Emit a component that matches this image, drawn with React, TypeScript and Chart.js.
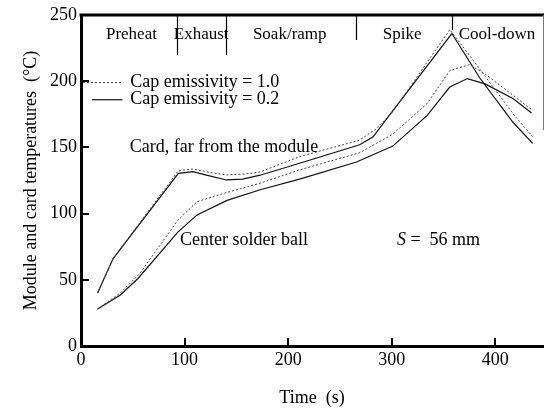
import { useEffect, useRef } from "react";
import { Chart, registerables } from "chart.js";

Chart.register(...registerables);

const FONT = '"Liberation Serif", "Times New Roman", serif';

// Card, far from the module — cap emissivity 0.2 (solid)
const cardTime02 = [16, 31, 94, 108, 121, 140.5, 156, 173, 211, 269, 282, 298, 358, 385, 417, 436];
const cardTemp02 = [40, 66, 130.4, 131.7, 129, 125.4, 126, 129, 138, 152, 158, 174.5, 236, 202.4, 169, 153];

// Card, far from the module — cap emissivity 1.0 (dotted)
const cardTime10 = [16, 31, 94, 108, 125, 140.5, 160, 173, 211, 269, 285, 301, 356, 377, 418, 436];
const cardTemp10 = [40, 66, 132.4, 133.7, 131, 129.2, 130, 131.5, 143, 155.5, 164, 177, 239, 217.5, 174.5, 158];

// Center solder ball — cap emissivity 0.2 (solid)
const ballTime02 = [16, 38, 55, 93.5, 112, 141, 173, 211, 266, 301, 334, 356, 373, 390, 417, 435];
const ballTemp02 = [28, 38.5, 51, 86, 99, 110, 118, 126, 139, 151, 174, 195.6, 202, 198, 187, 176];

// Center solder ball — cap emissivity 1.0 (dotted)
const ballTime10 = [16, 38, 57, 93.5, 112, 141, 173, 211, 269, 301, 334, 356, 375, 391, 436];
const ballTemp10 = [28, 40, 55, 95, 109, 116, 123, 133, 146, 160, 183, 208, 212.5, 205, 178];

// Reflow phases
const phaseNames = ["Preheat", "Exhaust", "Soak/ramp", "Spike", "Cool-down"];
const phaseLabelTimes = [48.7, 116, 201.5, 310, 401.6];
const phaseBoundaries = [92.6, 140, 265, 358];

const legendLabels = ["Cap emissivity = 1.0", "Cap emissivity = 0.2"];

const xTickValues = [100, 200, 300, 400];
const yTickValues = [50, 100, 150, 200];

const SOLID = "#111111";
const DOTTED = "#444444";

export default function App() {
  const ref = useRef<HTMLCanvasElement>(null);

  useEffect(() => {
    const canvas = ref.current;
    if (!canvas) return;
    const pts = (t: number[], v: number[]) => t.map((x, i) => ({ x, y: v[i] }));

    const overlay = {
      id: "overlay",
      afterDraw(chart: any) {
        const { ctx, chartArea } = chart;
        const xs = chart.scales.x;
        const ys = chart.scales.y;
        const { left, right, top, bottom } = chartArea;
        ctx.save();
        ctx.strokeStyle = "#000";
        ctx.fillStyle = "#000";

        // top frame
        ctx.lineWidth = 3;
        ctx.beginPath();
        ctx.moveTo(left - 1.5, top);
        ctx.lineTo(right + 1, top);
        ctx.stroke();
        // right frame (faint)
        ctx.lineWidth = 1;
        ctx.strokeStyle = "#777";
        ctx.beginPath();
        ctx.moveTo(right + 0.5, top);
        ctx.lineTo(right + 0.5, top + 115);
        ctx.stroke();
        ctx.strokeStyle = "#000";

        // inward ticks
        ctx.lineWidth = 2;
        yTickValues.forEach((v) => {
          const y = Math.round(ys.getPixelForValue(v));
          ctx.beginPath();
          ctx.moveTo(left, y);
          ctx.lineTo(left + 8, y);
          ctx.stroke();
        });
        xTickValues.forEach((v) => {
          const x = Math.round(xs.getPixelForValue(v));
          ctx.beginPath();
          ctx.moveTo(x, bottom);
          ctx.lineTo(x, bottom - 8);
          ctx.stroke();
        });

        // phase dividers
        const divLen = [40, 40, 25, 15];
        ctx.lineWidth = 1.2;
        phaseBoundaries.forEach((t, i) => {
          const x = Math.round(xs.getPixelForValue(t)) + 0.5;
          ctx.beginPath();
          ctx.moveTo(x, top);
          ctx.lineTo(x, top + divLen[i]);
          ctx.stroke();
        });

        // phase labels
        ctx.font = `17px ${FONT}`;
        ctx.textAlign = "center";
        ctx.textBaseline = "middle";
        const phaseY = ys.getPixelForValue(235);
        phaseNames.forEach((name, i) => {
          ctx.fillText(name, xs.getPixelForValue(phaseLabelTimes[i]), phaseY);
        });

        // legend
        ctx.textAlign = "left";
        ctx.font = `18px ${FONT}`;
        const ly1 = ys.getPixelForValue(199);
        const ly2 = ys.getPixelForValue(186);
        const textX = xs.getPixelForValue(47.5);
        ctx.lineWidth = 1;
        ctx.strokeStyle = DOTTED;
        ctx.setLineDash([2, 2]);
        ctx.beginPath();
        ctx.moveTo(left + 2, ly1);
        ctx.lineTo(xs.getPixelForValue(40), ly1);
        ctx.stroke();
        ctx.setLineDash([]);
        ctx.strokeStyle = SOLID;
        ctx.lineWidth = 1.2;
        ctx.beginPath();
        ctx.moveTo(xs.getPixelForValue(10.6), ly2);
        ctx.lineTo(xs.getPixelForValue(40), ly2);
        ctx.stroke();
        ctx.fillText(legendLabels[0], textX, ly1);
        ctx.fillText(legendLabels[1], textX, ly2);

        // annotations
        ctx.fillText("Card, far from the module", xs.getPixelForValue(47), ys.getPixelForValue(150));
        ctx.fillText("Center solder ball", xs.getPixelForValue(95.5), ys.getPixelForValue(80));
        const sx = xs.getPixelForValue(305);
        const sy = ys.getPixelForValue(80);
        ctx.font = `italic 18px ${FONT}`;
        ctx.fillText("S", sx, sy);
        const sw = ctx.measureText("S").width;
        ctx.font = `18px ${FONT}`;
        ctx.fillText(" =  56 mm", sx + sw, sy);

        ctx.restore();
      },
    };

    const chart = new Chart(canvas, {
      type: "scatter",
      data: {
        datasets: [
          {
            label: "Card, cap emissivity 1.0",
            data: pts(cardTime10, cardTemp10),
            showLine: true,
            borderColor: DOTTED,
            borderWidth: 1,
            borderDash: [2, 2],
            pointRadius: 0,
            tension: 0,
          },
          {
            label: "Center solder ball, cap emissivity 1.0",
            data: pts(ballTime10, ballTemp10),
            showLine: true,
            borderColor: DOTTED,
            borderWidth: 1,
            borderDash: [2, 2],
            pointRadius: 0,
            tension: 0,
          },
          {
            label: "Card, cap emissivity 0.2",
            data: pts(cardTime02, cardTemp02),
            showLine: true,
            borderColor: SOLID,
            borderWidth: 1.2,
            pointRadius: 0,
            tension: 0,
          },
          {
            label: "Center solder ball, cap emissivity 0.2",
            data: pts(ballTime02, ballTemp02),
            showLine: true,
            borderColor: SOLID,
            borderWidth: 1.2,
            pointRadius: 0,
            tension: 0,
          },
        ],
      },
      options: {
        animation: false,
        responsive: false,
        events: [],
        layout: { padding: { top: 15, right: 1, left: 0, bottom: 0 } },
        plugins: {
          legend: { display: false },
          tooltip: { enabled: false },
        },
        scales: {
          x: {
            type: "linear",
            min: 0,
            max: 446,
            border: { display: true, width: 3, color: "#000" },
            grid: { display: true, drawOnChartArea: false, drawTicks: false },
            ticks: {
              stepSize: 100,
              includeBounds: false,
              color: "#000",
              padding: 3,
              maxRotation: 0,
              font: { family: FONT, size: 18 },
            },
            title: {
              display: true,
              text: "Time  (s)",
              color: "#000",
              font: { family: FONT, size: 18 },
              padding: { top: 0, bottom: 6 },
            },
            afterFit: (s: any) => {
              s.height = 69;
            },
          },
          y: {
            type: "linear",
            min: 0,
            max: 250,
            border: { display: true, width: 3, color: "#000" },
            grid: { display: true, drawOnChartArea: false, drawTicks: false },
            ticks: {
              stepSize: 50,
              color: "#000",
              padding: 4,
              font: { family: FONT, size: 18 },
            },
            title: {
              display: true,
              text: "Module and card temperatures  (°C)",
              color: "#000",
              font: { family: FONT, size: 18 },
              padding: { top: 20, bottom: 0 },
            },
            afterFit: (s: any) => {
              s.width = 81;
            },
          },
        },
      },
      plugins: [overlay],
    } as any);

    return () => chart.destroy();
  }, []);

  return (
    <div style={{ position: "absolute", left: 0, top: 0, width: 544, height: 415, background: "#fff" }}>
      <canvas ref={ref} width={544} height={415} style={{ display: "block" }} />
    </div>
  );
}
